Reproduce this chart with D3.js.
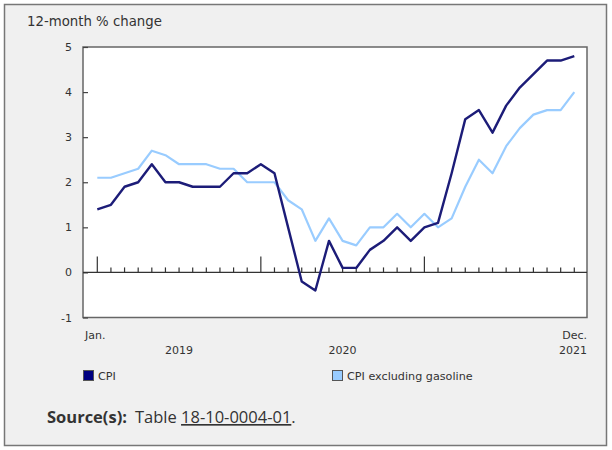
<!DOCTYPE html>
<html>
<head>
<meta charset="utf-8">
<script src="https://cdn.jsdelivr.net/npm/d3@7"></script>
<style>
  body { margin: 0; background: #fff; }
  svg { display: block; }
</style>
</head>
<body>
<svg width="612" height="450"></svg>
<script>
var svg = d3.select("svg");

// Jan. 2019 .. Dec. 2021, 12-month % change
const months = d3.range(36).map(i => new Date(2019, i, 1));
const cpi = [1.4, 1.5, 1.9, 2.0, 2.4, 2.0, 2.0, 1.9, 1.9, 1.9, 2.2, 2.2,
             2.4, 2.2, 1.0, -0.2, -0.4, 0.7, 0.1, 0.1, 0.5, 0.7, 1.0, 0.7,
             1.0, 1.1, 2.2, 3.4, 3.6, 3.1, 3.7, 4.1, 4.4, 4.7, 4.7, 4.8];
const cpiExGas = [2.1, 2.1, 2.2, 2.3, 2.7, 2.6, 2.4, 2.4, 2.4, 2.3, 2.3, 2.0,
                  2.0, 2.0, 1.6, 1.4, 0.7, 1.2, 0.7, 0.6, 1.0, 1.0, 1.3, 1.0,
                  1.3, 1.0, 1.2, 1.9, 2.5, 2.2, 2.8, 3.2, 3.5, 3.6, 3.6, 4.0];
const yTicks = [-1, 0, 1, 2, 3, 4, 5];
const yearLabels = ["2019", "2020", "2021"];
const seriesNames = ["CPI", "CPI excluding gasoline"];
const seriesColors = ["#000080", "#99ccff"];
const lineColors = ["#1c1c78", "#99ccff"];

const plot = { left: 83, right: 587, top: 47, bottom: 317.5 };
var labelFont = "DejaVu Sans, Verdana, sans-serif";

// outer panel
svg.append("rect")
  .attr("x", 4.5).attr("y", 4.5)
  .attr("width", 602).attr("height", 441)
  .attr("fill", "#f0f0f0")
  .attr("stroke", "#777")
  .attr("stroke-width", 1.5);

svg.append("text")
  .attr("x", 27).attr("y", 26)
  .attr("font-family", labelFont)
  .attr("font-size", 13.3)
  .attr("fill", "#333")
  .text("12-month % change");

// plot area
svg.append("rect")
  .attr("x", plot.left).attr("y", plot.top)
  .attr("width", plot.right - plot.left)
  .attr("height", plot.bottom - plot.top)
  .attr("fill", "#fff")
  .attr("stroke", "#666")
  .attr("stroke-width", 1.5);

var x = d3.scaleLinear()
  .domain([0, months.length - 1])
  .range([97.3, 574.3]);

var y = d3.scaleLinear()
  .domain([-1, 5])
  .range([plot.bottom, plot.top]);

// y axis, ticks pointing inward
var yAxis = svg.append("g")
  .attr("transform", "translate(" + plot.left + ",0)")
  .call(d3.axisRight(y).tickValues(yTicks).tickSize(5).tickFormat(""));
yAxis.select(".domain").remove();
yAxis.selectAll("line").attr("stroke", "#444").attr("stroke-width", 1.2);

svg.append("g")
  .selectAll("text")
  .data(yTicks)
  .enter()
  .append("text")
  .attr("x", 72)
  .attr("y", d => y(d) + 4)
  .attr("text-anchor", "end")
  .attr("font-family", labelFont)
  .attr("font-size", 11)
  .attr("fill", "#333")
  .text(d => d);

// zero line with month ticks
svg.append("line")
  .attr("x1", plot.left).attr("x2", plot.right)
  .attr("y1", y(0)).attr("y2", y(0))
  .attr("stroke", "#333")
  .attr("stroke-width", 1.3);

svg.append("g")
  .selectAll("line")
  .data(months)
  .enter()
  .append("line")
  .attr("x1", (d, i) => x(i))
  .attr("x2", (d, i) => x(i))
  .attr("y1", y(0))
  .attr("y2", (d, i) => y(0) - (d.getMonth() === 0 ? 16 : 5))
  .attr("stroke", "#333")
  .attr("stroke-width", 1.2);

// lines, light one under dark one
[cpiExGas, cpi].forEach((values, k) => {
  var idx = k === 0 ? 1 : 0;
  svg.append("path")
    .datum(values)
    .attr("fill", "none")
    .attr("stroke", lineColors[idx])
    .attr("stroke-width", idx === 0 ? 2.4 : 2.2)
    .attr("stroke-linejoin", "round")
    .attr("d", d3.line().x((d, i) => x(i)).y(d => y(d)));
});

// x labels
svg.append("text")
  .attr("x", 85).attr("y", 339)
  .attr("font-family", labelFont).attr("font-size", 11).attr("fill", "#333")
  .text("Jan.");
svg.append("text")
  .attr("x", plot.right).attr("y", 339)
  .attr("text-anchor", "end")
  .attr("font-family", labelFont).attr("font-size", 11).attr("fill", "#333")
  .text("Dec.");

svg.append("g")
  .selectAll("text")
  .data(yearLabels)
  .enter()
  .append("text")
  .attr("x", (d, i) => i < 2 ? (x(i * 12) + x(i * 12 + 12)) / 2 : plot.right)
  .attr("y", 354)
  .attr("text-anchor", (d, i) => i < 2 ? "middle" : "end")
  .attr("font-family", labelFont).attr("font-size", 11).attr("fill", "#333")
  .text(d => d);

// legend
var legend = svg.append("g")
  .selectAll("g")
  .data(seriesNames)
  .enter()
  .append("g")
  .attr("transform", (d, i) => "translate(" + (i === 0 ? 83 : 332) + ",370)");

legend.append("rect")
  .attr("x", 0.5).attr("y", 0.5)
  .attr("width", 10).attr("height", 10)
  .attr("fill", (d, i) => seriesColors[i])
  .attr("stroke", "#555");

legend.append("text")
  .attr("x", 15).attr("y", 9.5)
  .attr("font-family", labelFont).attr("font-size", 11.2).attr("fill", "#333")
  .text(d => d);

// source note
var src = svg.append("text")
  .attr("x", 47).attr("y", 423)
  .attr("font-family", "Open Sans, Noto Sans, sans-serif")
  .attr("font-size", 16.5)
  .attr("fill", "#333");
src.append("tspan").attr("font-weight", "bold").text("Source(s):");
src.append("tspan").attr("dx", 8).text("Table ");
src.append("tspan").attr("text-decoration", "underline").text("18-10-0004-01");
src.append("tspan").text(".");
</script>
</body>
</html>
